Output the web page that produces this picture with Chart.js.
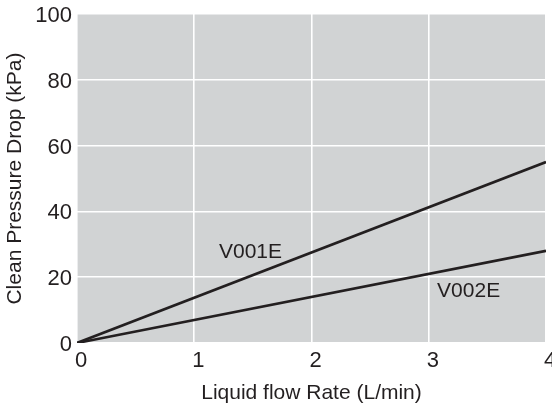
<!DOCTYPE html>
<html>
<head>
<meta charset="utf-8">
<script src="https://cdn.jsdelivr.net/npm/chart.js@4"></script>
<style>
html,body{margin:0;padding:0;background:#fff;}
#wrap{width:552px;height:410px;}
</style>
</head>
<body>
<div id="wrap"><canvas id="c" width="552" height="410"></canvas></div>
<script>
// Data
const flowRates = [0, 4];
const v001e = [0, 55];
const v002e = [0, 28];
const seriesNames = ['V001E', 'V002E'];
const labelFlow = [1.48, 3.34];
const labelDrop = [27.7, 15.8];
const xTicks = [0, 1, 2, 3, 4];
const yTicks = [0, 20, 40, 60, 80, 100];

const INK = '#231f20';
const FONT = "'Liberation Sans', Arial, Helvetica, sans-serif";

const bgPlugin = {
  id: 'plotBg',
  beforeDraw(chart) {
    const {ctx, chartArea: a} = chart;
    ctx.save();
    ctx.fillStyle = '#d1d3d4';
    ctx.fillRect(a.left, a.top, a.right - a.left, a.bottom - a.top);
    ctx.restore();
  }
};

const labelPlugin = {
  id: 'seriesLabels',
  afterDatasetsDraw(chart) {
    const {ctx, scales: {x, y}} = chart;
    ctx.save();
    ctx.fillStyle = INK;
    ctx.font = '21px ' + FONT;
    ctx.textAlign = 'center';
    ctx.textBaseline = 'middle';
    seriesNames.forEach((n, i) => {
      ctx.fillText(n, x.getPixelForValue(labelFlow[i]), y.getPixelForValue(labelDrop[i]));
    });
    ctx.restore();
  }
};

const toPoints = (xs, ys) => xs.map((v, i) => ({x: v, y: ys[i]}));

new Chart(document.getElementById('c'), {
  type: 'line',
  data: {
    datasets: [
      {label: seriesNames[0], data: toPoints(flowRates, v001e), borderColor: INK, borderWidth: 2.6, pointRadius: 0, tension: 0},
      {label: seriesNames[1], data: toPoints(flowRates, v002e), borderColor: INK, borderWidth: 2.6, pointRadius: 0, tension: 0}
    ]
  },
  options: {
    responsive: false,
    animation: false,
    events: [],
    layout: {padding: {top: 14, right: 6, left: 0, bottom: 0}},
    plugins: {legend: {display: false}, tooltip: {enabled: false}, title: {display: false}},
    scales: {
      x: {
        type: 'linear',
        min: 0, max: 4,
        afterBuildTicks(s) { s.ticks = xTicks.map(v => ({value: v})); },
        afterFit(s) { s.height = 67; s.paddingLeft = 0; s.paddingRight = 0; },
        grid: {color: '#ffffff', lineWidth: 1.6, drawTicks: false},
        border: {display: false},
        ticks: {color: INK, font: {family: FONT, size: 22}, padding: 5, labelOffset: 4, maxRotation: 0, autoSkip: false},
        title: {display: true, text: 'Liquid flow Rate (L/min)', color: INK, font: {family: FONT, size: 21}, padding: {top: 0, bottom: 4}}
      },
      y: {
        type: 'linear',
        min: 0, max: 100,
        afterBuildTicks(s) { s.ticks = yTicks.map(v => ({value: v})); },
        afterFit(s) { s.width = 77; s.paddingTop = 0; s.paddingBottom = 0; },
        grid: {color: '#ffffff', lineWidth: 1.6, drawTicks: false},
        border: {display: false},
        ticks: {color: INK, font: {family: FONT, size: 22}, padding: 5, labelOffset: 2, autoSkip: false},
        title: {display: true, text: 'Clean Pressure Drop (kPa)', color: INK, font: {family: FONT, size: 21}, padding: {top: 3, bottom: 0}}
      }
    }
  },
  plugins: [bgPlugin, labelPlugin]
});
</script>
</body>
</html>
